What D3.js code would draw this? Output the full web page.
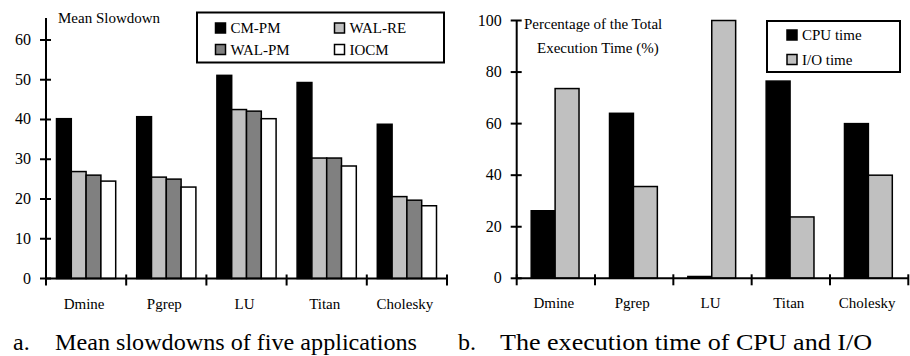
<!DOCTYPE html>
<html><head><meta charset="utf-8">
<script src="https://cdn.jsdelivr.net/npm/d3@7"></script>
<style>
body{margin:0;background:#fff;}
</style></head><body>
<svg id="c" width="910" height="356"></svg>
<script>
// ---- data ----
const categories = ["Dmine","Pgrep","LU","Titan","Cholesky"];
const seriesA = ["CM-PM","WAL-RE","WAL-PM","IOCM"];
const cmpm  = [40.2, 40.7, 51.1, 49.3, 38.8];
const walre = [26.9, 25.5, 42.5, 30.3, 20.6];
const walpm = [26.0, 25.0, 42.1, 30.3, 19.7];
const iocm  = [24.5, 23.0, 40.2, 28.3, 18.3];
const ticksA = [0,10,20,30,40,50,60];
const seriesB = ["CPU time","I/O time"];
const cpu = [26.2, 64.0, 0.7, 76.5, 60.0];
const io  = [73.6, 35.6, 100, 23.8, 40.0];
const ticksB = [0,20,40,60,80,100];
const colorsA = ["#000000","#c0c0c0","#808080","#ffffff"];
const colorsB = ["#000000","#c0c0c0"];

const svg = d3.select("#c");

function txt(g, x, y, s, size, anchor){
  return g.append("text").attr("x", x).attr("y", y)
    .style("font-family", "Liberation Serif").style("font-size", size + "px")
    .attr("text-anchor", anchor || "start").text(s);
}

function drawChart(o){
  const g = svg.append("g");
  const x = d3.scaleBand().domain(categories).range([o.x0, o.x1]);
  const y = d3.scaleLinear().domain([0, o.ymax]).range([o.y0, o.yTop]);
  const bw = x.bandwidth();
  const xs = d3.scaleBand().domain(o.series).range([o.padL, bw - o.padR]);
  o.series.forEach((s, si) => {
    g.selectAll(null).data(o.values[si]).enter().append("rect")
      .attr("x", (d,i) => x(categories[i]) + xs(s))
      .attr("y", d => y(d))
      .attr("width", xs.bandwidth())
      .attr("height", d => y(0) - y(d))
      .attr("fill", o.colors[si])
      .attr("stroke", "#000").attr("stroke-width", 1.5);
  });
  g.append("line").attr("x1", o.x0).attr("x2", o.x0)
    .attr("y1", y(0)).attr("y2", o.axisTop)
    .attr("stroke","#000").attr("stroke-width",2);
  g.selectAll(null).data(o.ticks).enter().append("line")
    .attr("x1", o.x0-6).attr("x2", o.x0+5)
    .attr("y1", d=>y(d)).attr("y2", d=>y(d))
    .attr("stroke","#000").attr("stroke-width",2);
  o.ticks.forEach(t => txt(g, o.x0-15, y(t)+5, t, 16, "end"));
  g.append("line").attr("x1", o.x0).attr("x2", o.x1)
    .attr("y1", y(0)).attr("y2", y(0))
    .attr("stroke","#000").attr("stroke-width",2);
  const bounds = categories.map(c => x(c)).concat([o.x1]);
  g.selectAll(null).data(bounds).enter().append("line")
    .attr("x1", d=>d).attr("x2", d=>d)
    .attr("y1", y(0)-4).attr("y2", y(0)+7)
    .attr("stroke","#000").attr("stroke-width",2);
  categories.forEach(c => txt(g, x(c) + bw/2 - 2, y(0)+30, c, 15, "middle"));
  o.title.forEach(t => txt(g, t.x, t.y, t.text, 15));
  const L = o.legend;
  g.append("rect").attr("x", L.x).attr("y", L.y).attr("width", L.w).attr("height", L.h)
    .attr("fill","#fff").attr("stroke","#000").attr("stroke-width",2);
  o.series.forEach((s, si) => {
    const it = L.items[si];
    g.append("rect").attr("x", it.x).attr("y", it.y).attr("width", 10).attr("height", 10)
      .attr("fill", o.colors[si]).attr("stroke","#000").attr("stroke-width",1.5);
    txt(g, it.x+15, it.y+10, s, 15);
  });
  txt(g, o.cap.x, 350, o.cap.lab, 24);
  txt(g, o.cap.x2, 350, o.cap.text, 24)
    .attr("textLength", o.cap.len).attr("lengthAdjust", "spacingAndGlyphs");
}

drawChart({
  x0: 46, x1: 447, y0: 278.5, yTop: 20.1, ymax: 65, axisTop: 18,
  series: seriesA, values: [cmpm, walre, walpm, iocm], colors: colorsA,
  ticks: ticksA, padL: 10.5, padR: 10.5,
  title: [{x: 58, y: 23, text: "Mean Slowdown"}],
  legend: {x: 197, y: 12.5, w: 247, h: 50,
    items: [{x:215.5,y:23},{x:334.5,y:23},{x:215.5,y:44.5},{x:334.5,y:44.5}]},
  cap: {x: 13, x2: 55, len: 362, lab: "a.", text: "Mean slowdowns of five applications"}
});
drawChart({
  x0: 516.7, x1: 908.3, y0: 278.3, yTop: 20.5, ymax: 100, axisTop: 20.5,
  series: seriesB, values: [cpu, io], colors: colorsB,
  ticks: ticksB, padL: 14.5, padR: 16,
  title: [{x: 524, y: 29, text: "Percentage of the Total"}, {x: 537, y: 53, text: "Execution Time (%)"}],
  legend: {x: 767, y: 21, w: 133, h: 51,
    items: [{x:787,y:30},{x:787,y:54.5}]},
  cap: {x: 458, x2: 500, len: 372, lab: "b.", text: "The execution time of CPU and I/O"}
});
</script></body></html>
